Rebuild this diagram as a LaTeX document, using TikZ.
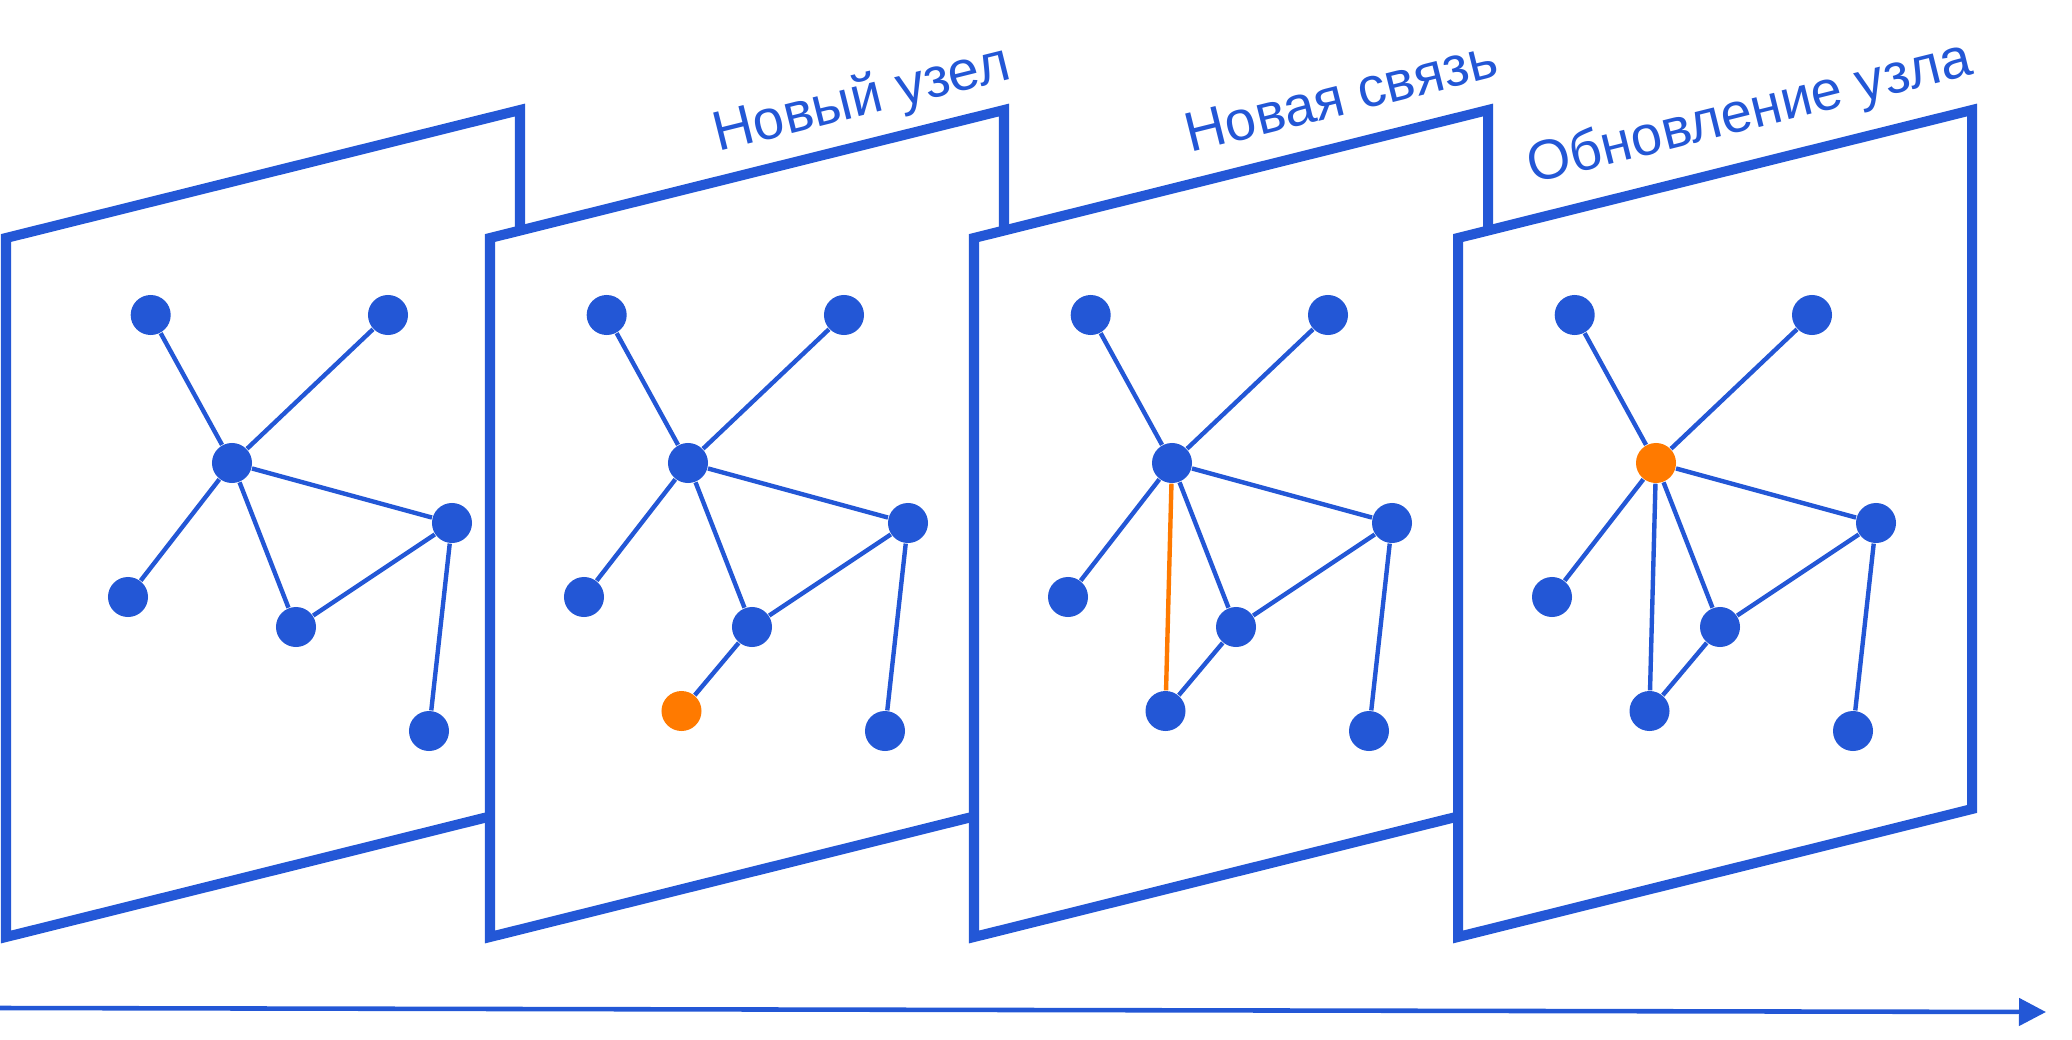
\documentclass[tikz,border=0pt]{standalone}
\usepackage{fontspec}
\setmainfont{Liberation Sans}
\usetikzlibrary{arrows.meta}
\definecolor{bl}{RGB}{35,87,214}
\definecolor{og}{RGB}{255,122,0}
\newcommand\basegraph[3]{%
  \begin{scope}[shift={(#2,0)}]
    \node[vtx] (#1a) at (150.7,315) {};
    \node[vtx] (#1b) at (388,315) {};
    \node[#3] (#1c) at (232,463) {};
    \node[vtx] (#1d) at (452,523) {};
    \node[vtx] (#1e) at (128,597) {};
    \node[vtx] (#1f) at (296,627) {};
    \node[vtx] (#1g) at (429,731) {};
  \end{scope}
  \draw[edge] (#1a) -- (#1c);
  \draw[edge] (#1b) -- (#1c);
  \draw[edge] (#1c) -- (#1e);
  \draw[edge] (#1c) -- (#1f);
  \draw[edge] (#1c) -- (#1d);
  \draw[edge] (#1d) -- (#1f);
  \draw[edge] (#1d) -- (#1g);
}
\begin{document}
\begin{tikzpicture}[x=0.01cm,y=-0.01cm,
  frame/.style={draw=bl, line width=2.85pt, fill=white, line join=miter},
  vtx/.style={circle, fill=bl, inner sep=0pt, minimum size=0.4cm},
  vtxo/.style={vtx, fill=og},
  edge/.style={draw=bl, line width=1.25pt},
  edgeo/.style={edge, draw=og},
  lbl/.style={text=bl, font=\fontsize{15.9}{19}\selectfont, rotate=13.98, anchor=base west, inner sep=0pt}]

\useasboundingbox (0,0) rectangle (2072,1039);

% panel 1
\draw[frame] (6,238) -- (520,110) -- (520,809) -- (6,937) -- cycle;
\basegraph{p}{0}{vtx}

% panel 2
\draw[frame] (490,238) -- (1004,110) -- (1004,809) -- (490,937) -- cycle;
\basegraph{q}{456}{vtx}
\node[vtxo] (qh) at (681.5,711) {};
\draw[edge] (qf) -- (qh);
\node[lbl] (t2) at (718,152) {Новый узел};

% panel 3
\draw[frame] (974,238) -- (1488,110) -- (1488,809) -- (974,937) -- cycle;
\basegraph{r}{940}{vtx}
\node[vtx] (rh) at (1165.5,711) {};
\draw[edge] (rf) -- (rh);
\draw[edgeo] (rc) -- (rh);
\node[lbl] (t3) at (1190,153) {Новая связь};

% panel 4
\draw[frame] (1458,238) -- (1972,110) -- (1972,809) -- (1458,937) -- cycle;
\basegraph{s}{1424}{vtxo}
\node[vtx] (sh) at (1649.5,711) {};
\draw[edge] (sf) -- (sh);
\draw[edge] (sc) -- (sh);
\node[lbl] (t4) at (1532,184) {Обновление узла};

% timeline
\coordinate (ts) at (0,1008);
\coordinate (te) at (2046,1012);
\draw[bl, line width=1.3pt, -{Triangle[length=0.27cm,width=0.27cm]}] (ts) -- (te);
\end{tikzpicture}
\end{document}
